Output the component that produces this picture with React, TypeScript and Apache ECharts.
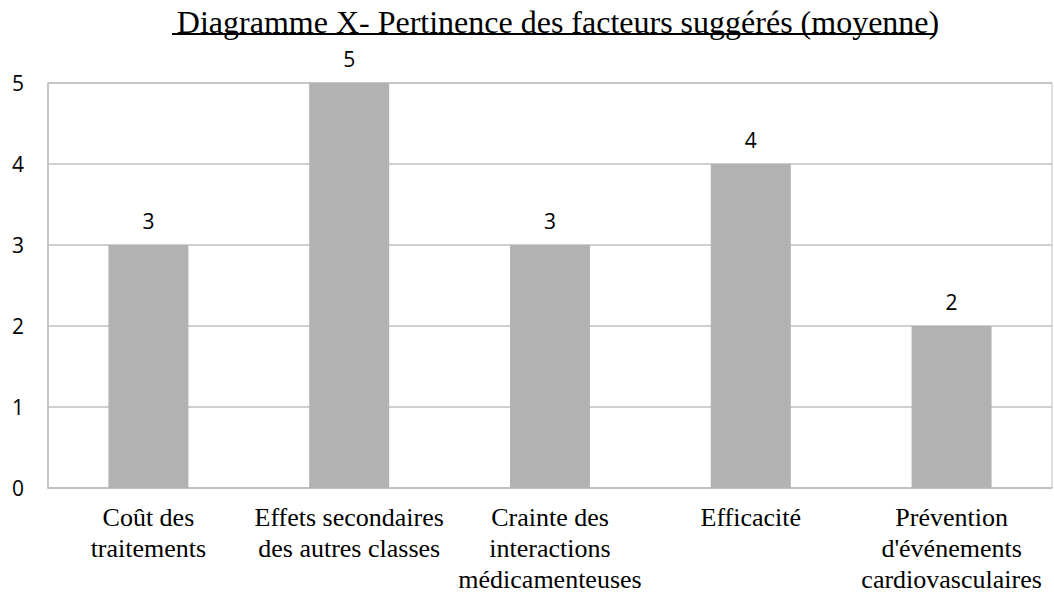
import React, { useEffect, useRef } from "react";
import * as echarts from "echarts";

const titleText = "Diagramme X- Pertinence des facteurs suggérés (moyenne)";
const categories = [
  "Coût des\ntraitements",
  "Effets secondaires\ndes autres classes",
  "Crainte des\ninteractions\nmédicamenteuses",
  "Efficacité",
  "Prévention\nd'événements\ncardiovasculaires",
];
const values = [3, 5, 3, 4, 2];
const yTicks = { min: 0, max: 5, interval: 1 };

const SERIF = "Liberation Serif";
const SANS = "Open Sans";

export default function App() {
  const ref = useRef<HTMLDivElement>(null);
  useEffect(() => {
    if (!ref.current) return;
    const chart = echarts.init(ref.current, null, { renderer: "svg" });
    chart.setOption({
      animation: false,
      backgroundColor: "#ffffff",
      textStyle: { fontFamily: SERIF },
      title: {
        text: titleText,
        left: 553,
        textAlign: "center",
        top: 1,
        textStyle: {
          fontFamily: SERIF,
          fontSize: 32,
          fontWeight: "normal",
          color: "#000",
        },
      },
      graphic: [
        {
          type: "line",
          shape: { x1: 172, y1: 34, x2: 935, y2: 34 },
          style: { stroke: "#000", lineWidth: 2 },
        },
      ],
      grid: {
        left: 48,
        right: 2,
        top: 83,
        bottom: 108,
        show: true,
        borderColor: "#bfbfbf",
        borderWidth: 1,
      },
      xAxis: {
        type: "category",
        data: categories,
        axisLine: { lineStyle: { color: "#bfbfbf", width: 1.5 } },
        axisTick: { show: false },
        axisLabel: {
          interval: 0,
          margin: 14,
          fontFamily: SERIF,
          fontSize: 26,
          lineHeight: 31,
          color: "#000",
          align: "center",
        },
      },
      yAxis: {
        type: "value",
        min: yTicks.min,
        max: yTicks.max,
        interval: yTicks.interval,
        axisLine: { show: true, lineStyle: { color: "#bfbfbf", width: 1.5 } },
        axisTick: { show: false },
        splitLine: { lineStyle: { color: "#bfbfbf", width: 1.5 } },
        axisLabel: {
          margin: 24,
          fontFamily: SANS,
          fontSize: 21,
          color: "#000",
        },
      },
      series: [
        {
          type: "bar",
          data: values,
          barWidth: 80,
          itemStyle: { color: "#b2b2b2" },
          label: {
            show: true,
            position: "top",
            distance: 14,
            fontFamily: SANS,
            fontSize: 21,
            color: "#000",
          },
        },
      ],
    });
    return () => chart.dispose();
  }, []);
  return (
    <div
      ref={ref}
      style={{ position: "fixed", left: 0, top: 0, width: 1054, height: 596 }}
    />
  );
}
